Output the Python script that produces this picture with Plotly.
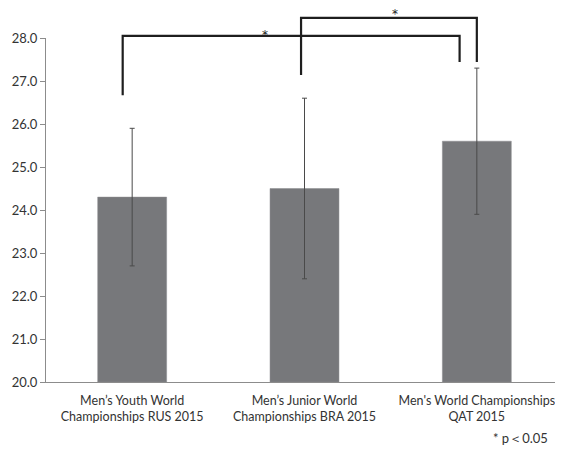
import plotly.graph_objects as go

categories = ["Men\u2019s Youth World<br>Championships RUS 2015",
              "Men\u2019s Junior World<br>Championships BRA 2015",
              "Men's World Championships<br>QAT 2015"]
means = [24.3, 24.5, 25.6]
sds = [1.6, 2.1, 1.7]
y_ticks = [20, 21, 22, 23, 24, 25, 26, 27, 28]

Y0, Y1 = 20.0, 28.0
N = len(categories)

def xp(i):
    return (i + 0.5) / N

def yp(v):
    return (v - Y0) / (Y1 - Y0)

fig = go.Figure()
fig.add_trace(go.Bar(
    x=categories, y=[m - Y0 for m in means], base=Y0,
    marker=dict(color="#77787b", line=dict(color="#8a8b8e", width=0.5)),
    width=0.4,
    error_y=dict(type="data", array=sds, color="#4a4a4a", thickness=1, width=2.5),
))

line = dict(color="#1e1e1e", width=2.2)
shapes = []
# bracket 1: Youth vs World
b1 = dict(x0=xp(0) - 0.055 / N, x1=xp(2) - 0.1 / N, top=28.05, l=26.67, r=27.44)
# bracket 2: Junior vs World
b2 = dict(x0=xp(1) - 0.02 / N, x1=xp(2), top=28.47, l=27.14, r=27.44)
for b in (b1, b2):
    pts = [(b["x0"], yp(b["l"])), (b["x0"], yp(b["top"])), (b["x1"], yp(b["top"])), (b["x1"], yp(b["r"]))]
    path = "M " + " L ".join(f"{x},{y}" for x, y in pts)
    shapes.append(dict(type="path", xref="paper", yref="paper", path=path, line=line))

star_font = dict(family="DejaVu Sans", size=12, color="#222")
annotations = [
    dict(text="*", x=0.4236, y=yp(28.28), xref="paper", yref="paper",
         showarrow=False, font=star_font),
    dict(text="*", x=0.685, y=yp(28.76), xref="paper", yref="paper",
         showarrow=False, font=star_font),
    dict(text="* p\uff1c0.05", x=0.975, y=-0.193, xref="paper", yref="paper",
         xanchor="right", showarrow=False, font=dict(size=13, color="#333")),
]

# page body has an 8px margin, so the figure is drawn 8px in from the top-left
fig.update_layout(
    width=555, height=439,
    margin=dict(l=38, r=0, t=30, b=65),
    paper_bgcolor="white", plot_bgcolor="white",
    font=dict(family="Lato, 'Noto Sans', sans-serif", size=13, color="#333"),
    showlegend=False,
    shapes=shapes,
    annotations=annotations,
    bargap=0.6,
)
fig.update_xaxes(
    type="category", showline=True, linecolor="#8c8c8c", linewidth=1,
    ticks="outside", ticklen=7, tickcolor="rgba(0,0,0,0)", showgrid=False,
    tickfont=dict(size=12.5, color="#333"), automargin=False,
    ticklabeloverflow="allow",
)
fig.update_yaxes(
    range=[Y0, Y1], tickvals=y_ticks, tickformat=".1f",
    showline=True, linecolor="#8c8c8c", linewidth=1,
    ticks="outside", ticklen=5, tickcolor="#8c8c8c", showgrid=False, zeroline=False,
    tickfont=dict(size=13, color="#333"), automargin=False,
)

fig.write_html("out.html")
